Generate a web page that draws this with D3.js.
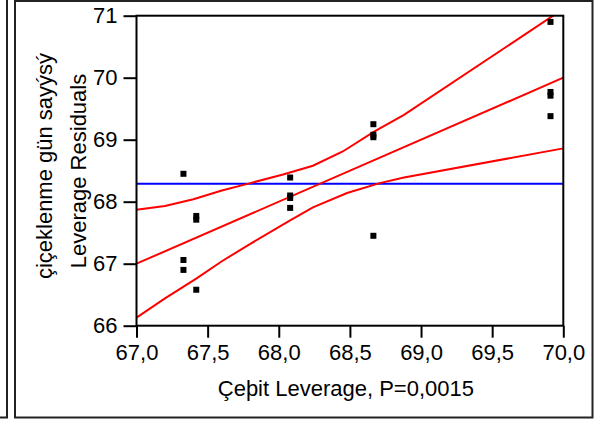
<!DOCTYPE html>
<html>
<head>
<meta charset="utf-8">
<script src="https://cdn.jsdelivr.net/npm/d3@7/dist/d3.min.js"></script>
<style>
  body { margin: 0; background: #fff; }
  text { font-family: "Liberation Sans", Arial, Helvetica, sans-serif; fill: #000; }
</style>
</head>
<body>
<svg id="chart" width="598" height="421"></svg>
<script>
// Leverage plot data
const xTicks = [67.0, 67.5, 68.0, 68.5, 69.0, 69.5, 70.0];
const yTicks = [66, 67, 68, 69, 70, 71];

// Leverage residual points (x = group leverage value, y = leverage residual)
const pointX = [67.33, 67.33, 67.33,
                67.42, 67.42, 67.42,
                68.08, 68.08, 68.08, 68.08,
                68.665, 68.665, 68.665, 68.665,
                69.91, 69.91, 69.91, 69.91];
const pointY = [68.45, 67.06, 66.90,
                67.77, 67.71, 66.58,
                68.39, 68.10, 68.06, 67.90,
                69.25, 69.08, 69.04, 67.45,
                70.90, 69.77, 69.71, 69.38];

// Fitted line and its confidence curves
const fitX = [67.0, 70.0];
const fitY = [67.0, 70.0];
const upperX = [67.0, 67.2, 67.4, 67.6, 67.8, 68.03, 68.24, 68.45, 68.67, 68.88, 70.0];
const upperY = [67.87, 67.93, 68.04, 68.18, 68.30, 68.44, 68.58, 68.81, 69.13, 69.40, 71.11];
const lowerX = [67.0, 67.2, 67.42, 67.6, 67.8, 68.08, 68.24, 68.48, 68.71, 68.88, 70.0];
const lowerY = [66.13, 66.44, 66.76, 67.04, 67.32, 67.70, 67.91, 68.14, 68.30, 68.39, 68.86];

// Overall mean (horizontal reference line)
const meanY = [68.29];

const xTitle = "Çeþit Leverage, P=0,0015";
const yTitle = ["çiçeklenme gün sayýsý", "Leverage Residuals"];

const svg = d3.select("#chart");
const plot = { left: 136.5, right: 563.3, top: 15.7, bottom: 325.7 };
const FONT = 22;

const x = d3.scaleLinear().domain([67, 70]).range([plot.left, plot.right]);
const y = d3.scaleLinear().domain([66, 71]).range([plot.bottom, plot.top]);

// Panel frames
svg.append("path")
  .attr("d", `M0,417.5 H7 V0`)
  .attr("fill", "none").attr("stroke", "#222").attr("stroke-width", 2);
svg.append("rect")
  .attr("x", 15).attr("y", 1).attr("width", 577.5).attr("height", 416.5)
  .attr("fill", "none").attr("stroke", "#222").attr("stroke-width", 2);

// Clip region for the plotted lines
svg.append("clipPath").attr("id", "plotClip")
  .append("rect")
  .attr("x", plot.left).attr("y", plot.top)
  .attr("width", plot.right - plot.left).attr("height", plot.bottom - plot.top);

const g = svg.append("g").attr("clip-path", "url(#plotClip)");
const line = d3.line().x(d => x(d[0])).y(d => y(d[1]));

// Mean line
g.append("path")
  .attr("d", line([[67, meanY[0]], [70, meanY[0]]]))
  .attr("fill", "none").attr("stroke", "#0000ff").attr("stroke-width", 2);

// Fit and confidence curves
const redLines = [
  d3.zip(fitX, fitY),
  d3.zip(upperX, upperY),
  d3.zip(lowerX, lowerY)
];
g.selectAll("path.fit").data(redLines).join("path")
  .attr("class", "fit")
  .attr("d", line)
  .attr("fill", "none").attr("stroke", "#ff0000").attr("stroke-width", 2);

// Points
const S = 6;
svg.append("g").selectAll("rect").data(d3.zip(pointX, pointY)).join("rect")
  .attr("x", d => x(d[0]) - S / 2)
  .attr("y", d => y(d[1]) - S / 2)
  .attr("width", S).attr("height", S)
  .attr("fill", "#000");

// Axes
const fmtX = v => d3.format(".1f")(v).replace(".", ",");
const xAxis = svg.append("g")
  .attr("transform", `translate(0,${plot.bottom})`)
  .call(d3.axisBottom(x).tickValues(xTicks).tickSize(12).tickPadding(7).tickFormat(fmtX));
const yAxis = svg.append("g")
  .attr("transform", `translate(${plot.left},0)`)
  .call(d3.axisLeft(y).tickValues(yTicks).tickSize(13).tickPadding(6).tickFormat(d3.format("d")));
[xAxis, yAxis].forEach(a => {
  a.select(".domain").remove();
  a.selectAll("line").attr("stroke", "#000").attr("stroke-width", 2);
  a.selectAll("text").attr("font-size", FONT)
    .attr("font-family", "'Liberation Sans', Arial, sans-serif").attr("fill", "#000");
});

// Plot box
svg.append("rect")
  .attr("x", plot.left).attr("y", plot.top)
  .attr("width", plot.right - plot.left).attr("height", plot.bottom - plot.top)
  .attr("fill", "none").attr("stroke", "#000").attr("stroke-width", 2);

// Titles
svg.append("text")
  .attr("x", (plot.left + plot.right) / 2 - 4).attr("y", 395.5)
  .attr("text-anchor", "middle").attr("font-size", FONT)
  .text(xTitle);

const yTitlePos = [[52, 166], [86, 171]];
yTitle.forEach((t, i) => {
  svg.append("text")
    .attr("transform", `translate(${yTitlePos[i][0]},${yTitlePos[i][1]}) rotate(-90)`)
    .attr("text-anchor", "middle").attr("font-size", FONT)
    .text(t);
});
</script>
</body>
</html>
